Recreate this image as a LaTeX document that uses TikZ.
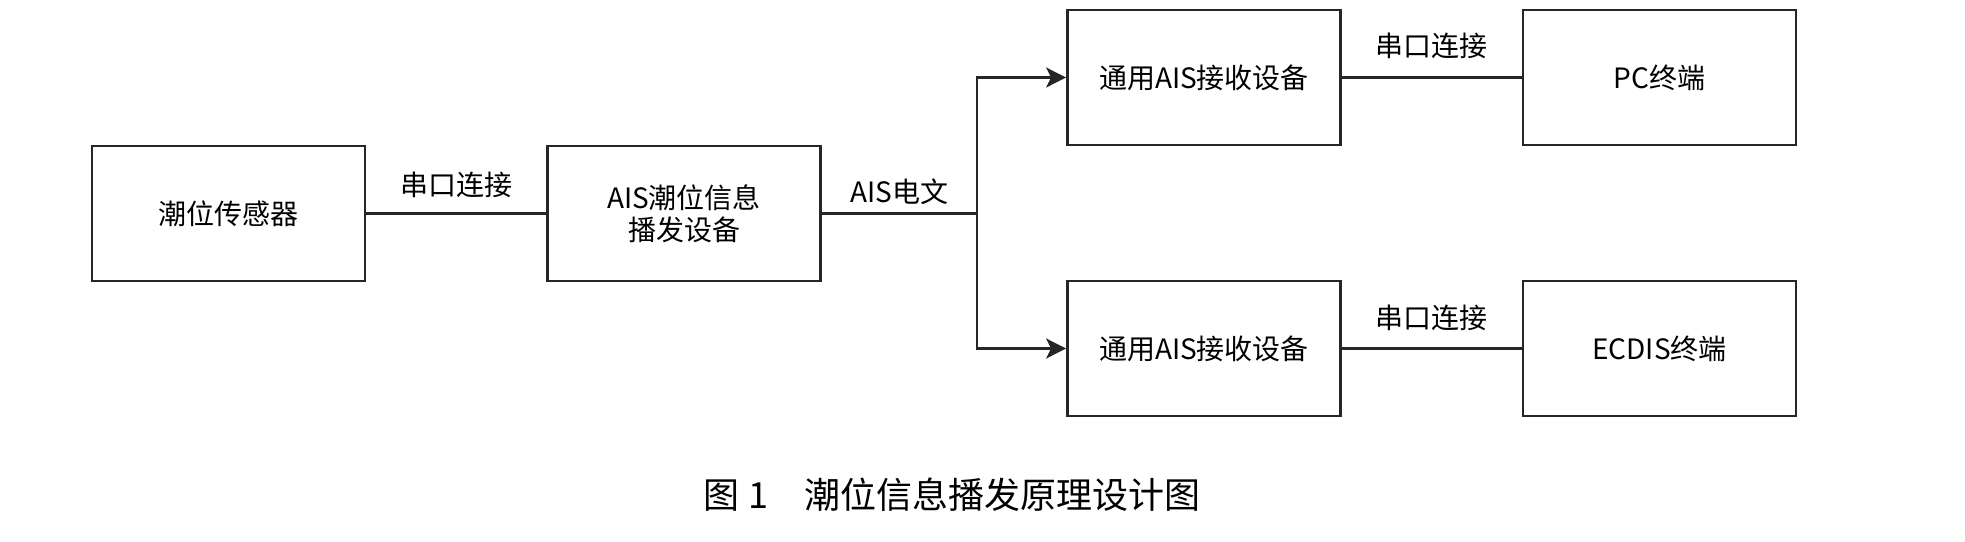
\documentclass[tikz,border=0pt]{standalone}
\usepackage{fontspec}
\setmainfont{Noto Sans CJK SC}
\usetikzlibrary{arrows.meta}
\begin{document}
\begin{tikzpicture}[x=0.5pt,y=-0.5pt,
  box/.style={draw=black!85, line width=1.4pt, minimum width=136.5pt, minimum height=67.5pt,
    inner sep=0pt, align=center, font=\fontsize{14}{16}\selectfont},
  conn/.style={line width=1.3pt, draw=black!85},
  arr/.style={conn, -{Stealth[length=10pt,width=10pt,inset=2.5pt]}},
  lab/.style={font=\fontsize{14}{16}\selectfont, inner sep=0pt}]
\useasboundingbox (0,0) rectangle (1965,541);
\node[box] (sensor) at (228.5,213.5) {潮位传感器};
\node[box] (tx) at (684,213.5) {AIS潮位信息\\播发设备};
\node[box] (rx1) at (1204,77.5) {通用AIS接收设备};
\node[box] (pc) at (1659.5,77.5) {PC终端};
\node[box] (rx2) at (1204,348.5) {通用AIS接收设备};
\node[box] (ecdis) at (1659.5,348.5) {ECDIS终端};
\coordinate (j) at (977,213.5);
\draw[conn] (sensor) -- node[lab, midway, yshift=14.5pt] (l1) {串口连接} (tx);
\draw[conn] (tx) -- node[lab, midway, yshift=11pt] (l2) {AIS电文} (j);
\draw[arr] (j) |- (rx1);
\draw[arr] (j) |- (rx2);
\draw[conn] (rx1) -- node[lab, midway, yshift=16pt] (l3) {串口连接} (pc);
\draw[conn] (rx2) -- node[lab, midway, yshift=15.5pt] (l4) {串口连接} (ecdis);
\node[inner sep=0pt, font=\fontsize{18}{20}\selectfont] (cap) at (952,495) {图~1\quad 潮位信息播发原理设计图};
\end{tikzpicture}
\end{document}
